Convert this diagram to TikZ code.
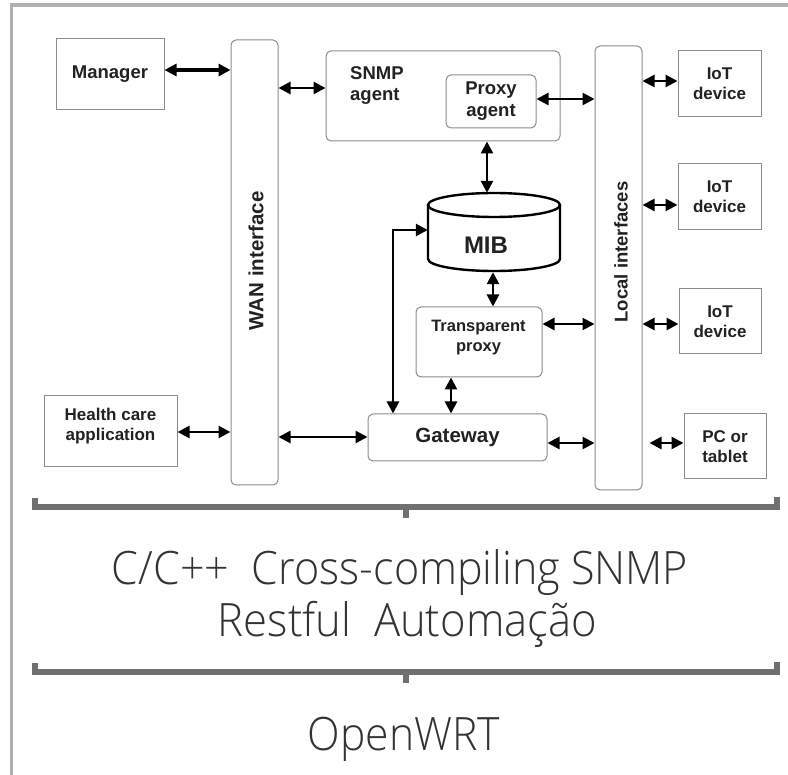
\documentclass[tikz,border=0pt]{standalone}
\usepackage{fontspec}
\setmainfont{Liberation Sans}
\newfontfamily\lightf{Open Sans Light}
\usetikzlibrary{arrows.meta}
\definecolor{boxgray}{HTML}{8C8C8C}
\definecolor{framegray}{HTML}{B0B0B0}
\definecolor{brkgray}{HTML}{707070}
\definecolor{txt}{HTML}{222222}
\newcommand{\fs}[2]{\fontsize{#1}{#2}\selectfont}
\begin{document}
\begin{tikzpicture}[x=1pt,y=-1pt,
  box/.style={draw=boxgray, line width=1pt, inner sep=0pt, align=center, text=txt},
  rbox/.style={box, rounded corners=5pt},
  arr/.style={line width=2.6pt, {Triangle[length=12pt,width=12pt]}-{Triangle[length=12pt,width=12pt]}},
  brk/.style={line width=6pt, draw=brkgray},
  big/.style={font=\lightf, text=black!80, inner sep=0pt, anchor=base}]
\useasboundingbox (0,0) rectangle (788,775);
\fill[white] (0,0) rectangle (788,775);
\draw[line width=3.5pt, framegray] (11.5,775) -- (11.5,5) -- (788,5);

% boxes
\node[box, font=\bfseries\fs{18.5}{21}, minimum width=108pt, minimum height=71pt] (manager) at (110,74.5) {Manager};
\node[rbox, minimum width=47pt, minimum height=445pt] (wan) at (254.5,262.5) {};
\node[rotate=90, text=txt, font=\bfseries\fs{20.5}{23}] (wanlbl) at (256,261) {WAN interface};
\node[rbox, minimum width=234pt, minimum height=90pt] (snmp) at (443,96) {};
\node[text=txt, font=\bfseries\fs{18.5}{21}, align=left, anchor=north west, inner sep=0pt] (snmplbl) at (350,66) {SNMP\\agent};
\node[rbox, font=\bfseries\fs{18.5}{22}, minimum width=90pt, minimum height=53pt] (proxy) at (491,101.5) {Proxy\\agent};
\node[rbox, minimum width=47pt, minimum height=444pt] (local) at (618.5,268) {};
\node[rotate=90, text=txt, font=\bfseries\fs{18.5}{21}] (locallbl) at (621,252) {Local interfaces};
\node[box, font=\bfseries\fs{17}{20}, minimum width=83pt, minimum height=66pt] (iota) at (719.5,84) {IoT\\device};
\node[box, font=\bfseries\fs{17}{20}, minimum width=83pt, minimum height=66pt] (iotb) at (719.5,197) {IoT\\device};
\node[box, font=\bfseries\fs{17}{20}, minimum width=82pt, minimum height=65pt] (iotc) at (720,321.5) {IoT\\device};
\node[box, font=\bfseries\fs{17}{20}, minimum width=82pt, minimum height=65pt] (pc) at (725,446.5) {PC or\\tablet};
\node[rbox, font=\bfseries\fs{20.5}{23}, minimum width=179pt, minimum height=47pt] (gateway) at (457.5,437.5) {Gateway};
\node[box, minimum width=133pt, minimum height=71pt] (health) at (110.5,431.5) {};
\node[text=txt, font=\bfseries\fs{17}{20}, align=center] (healthlbl) at (110.5,426) {Health care\\application};
\node[rbox, minimum width=126pt, minimum height=70pt] (transp) at (479,342) {};
\node[text=txt, font=\bfseries\fs{16.5}{20}, align=center] (transplbl) at (478.5,338) {Transparent\\proxy};

% MIB cylinder
\node[minimum width=132pt, minimum height=79pt, inner sep=0pt] (mib) at (494,232.5) {};
\draw[line width=2.4pt] (428,205) -- (428,259) arc[start angle=180, end angle=360, x radius=66pt, y radius=12pt] -- (560,205);
\draw[line width=2.4pt] (494,205) ellipse[x radius=66pt, y radius=12pt];
\node[text=txt, font=\bfseries\fs{24}{26}] (mibtxt) at (486,245) {MIB};

% connectors
\draw[arr, line width=3.2pt] (manager.east |- 0,70) -- (wan.west |- 0,70);
\draw[arr] (wan.east |- 0,88) -- (snmp.west |- 0,88);
\draw[arr] (proxy.east |- 0,99) -- (local.west |- 0,99);
\draw[arr] (local.east |- 0,81) -- (iota.west |- 0,81);
\draw[arr] (local.east |- 0,205) -- (iotb.west |- 0,205);
\draw[arr] (local.east |- 0,324) -- (iotc.west |- 0,324);
\draw[arr, shorten <=7pt] (local.east |- 0,443) -- (pc.west |- 0,443);
\draw[arr] (health.east |- 0,432) -- (wan.west |- 0,432);
\draw[arr] (wan.east |- 0,437) -- (gateway.west |- 0,437);
\draw[arr] (gateway.east |- 0,443) -- (local.west |- 0,443);
\draw[arr] (487,0 |- snmp.south) -- (487,0 |- mib.north);
\draw[arr] (493,0 |- mib.south) -- (493,0 |- transp.north);
\draw[arr] (451,0 |- transp.south) -- (451,0 |- gateway.north);
\draw[arr] (transp.east |- 0,324) -- (local.west |- 0,324);
\draw[arr] (393,0 |- gateway.north) |- (mib.west |- 0,230);

% brackets
\draw[brk] (35,498) -- (35,507.5) -- (777,507.5) -- (777,497);
\draw[brk] (406,507.5) -- (406,518);
\draw[brk] (35,663) -- (35,672) -- (777,672) -- (777,662);
\draw[brk] (406,672) -- (406,683);

% bottom texts
\node[big] (line1) at (400,585) {\resizebox{576pt}{\height}{\fs{46}{50}C/C++~~Cross-compiling SNMP}};
\node[big] (line2) at (407.5,637) {\resizebox{379pt}{\height}{\fs{46}{50}Restful~~Automação}};
\node[big] (line3) at (404,750) {\resizebox{192pt}{\height}{\fs{46}{50}OpenWRT}};
\end{tikzpicture}
\end{document}
